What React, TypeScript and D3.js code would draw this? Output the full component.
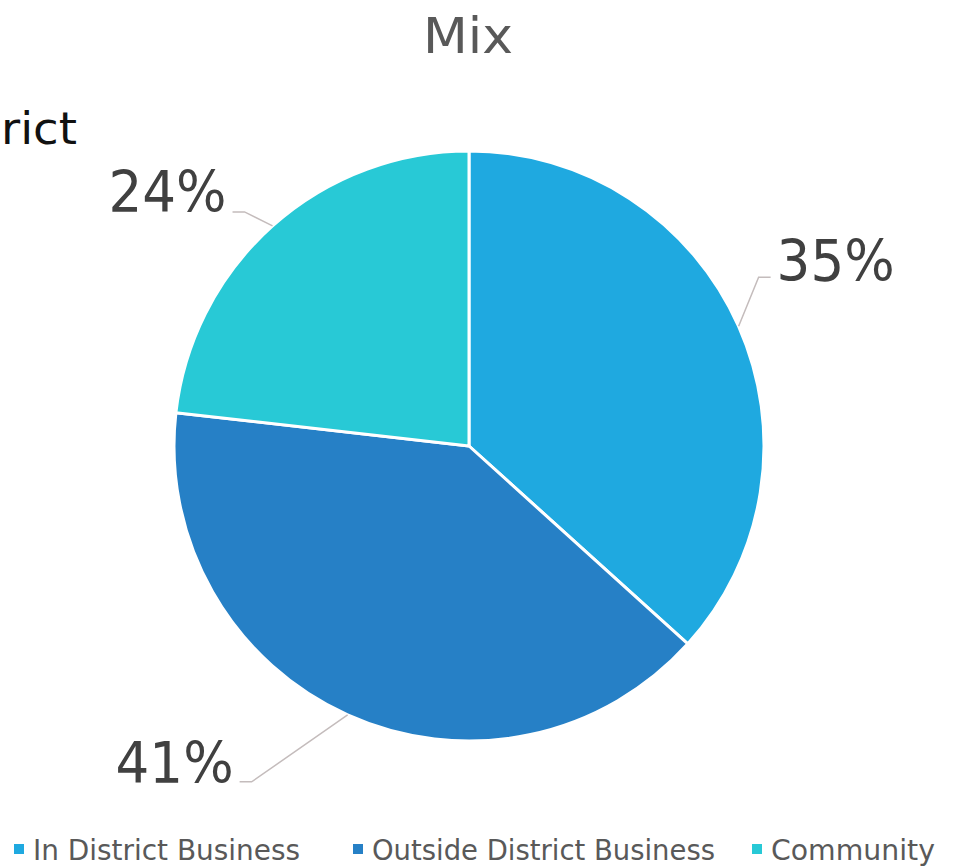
import React from "react";
import * as d3 from "d3";

const categories = ["In District Business", "Outside District Business", "Community"];
const values = [36.7, 40.1, 23.2];
const valueLabels = ["35%", "41%", "24%"];
const colors = ["#1FA9E0", "#2680C6", "#28C9D6"];
const title = "Mix";

const W = 953;
const H = 867;
const cx = 469;
const cy = 446;
const R = 295;

// label layout: elbow offset from the arc midpoint, text side
const labelLayout = [
  { ex: 20, ey: -49, side: 1, ty: 4 },
  { ex: -96, ey: 67, side: -1, ty: 1 },
  { ex: -28, ey: -14, side: -1, ty: 0 },
];

const legendLayout = [
  { x: 14, w: 267 },
  { x: 353, w: 343 },
  { x: 752, w: 164 },
];

export default function App() {
  React.useEffect(() => {
    document.body.style.margin = "0";
  }, []);

  const pie = d3.pie<number>().sort(null).value((d) => d)(values);
  const arc = d3.arc<d3.PieArcDatum<number>>().innerRadius(0).outerRadius(R);

  return (
    <svg width={W} height={H} style={{ display: "block", background: "#fff" }}>
      <text x={468} y={53} textAnchor="middle" fontFamily="DejaVu Sans" fontSize={50} fill="#595959" textLength={90} lengthAdjust="spacingAndGlyphs">
        {title}
      </text>
      <text x={1} y={144} fontFamily="DejaVu Sans" fontSize={44} fill="#111" textLength={76} lengthAdjust="spacingAndGlyphs">
        rict
      </text>
      <g transform={`translate(${cx},${cy})`}>
        {pie.map((p, i) => (
          <path key={i} d={arc(p) || ""} fill={colors[i]} stroke="#fff" strokeWidth={3} strokeLinejoin="round" />
        ))}
      </g>
      {pie.map((p, i) => {
        const mid = (p.startAngle + p.endAngle) / 2;
        const ax = cx + R * Math.sin(mid);
        const ay = cy - R * Math.cos(mid);
        const L = labelLayout[i];
        const exx = ax + L.ex;
        const eyy = ay + L.ey;
        const hx = exx + L.side * 12;
        const tx = hx + L.side * 6;
        return (
          <g key={i}>
            <polyline points={`${ax},${ay} ${exx},${eyy} ${hx},${eyy}`} fill="none" stroke="#c4bcbc" strokeWidth={1.5} />
            <text x={tx} y={eyy + L.ty} textAnchor={L.side > 0 ? "start" : "end"} fontFamily="DejaVu Sans" fontSize={57} fill="#404040" textLength={118} lengthAdjust="spacingAndGlyphs">
              {valueLabels[i]}
            </text>
          </g>
        );
      })}
      {categories.map((c, i) => (
        <g key={c}>
          <rect x={legendLayout[i].x} y={844} width={10} height={10} fill={colors[i]} />
          <text x={legendLayout[i].x + 19} y={860} fontFamily="DejaVu Sans" fontSize={28} fill="#595959" textLength={legendLayout[i].w} lengthAdjust="spacingAndGlyphs">
            {c}
          </text>
        </g>
      ))}
    </svg>
  );
}
